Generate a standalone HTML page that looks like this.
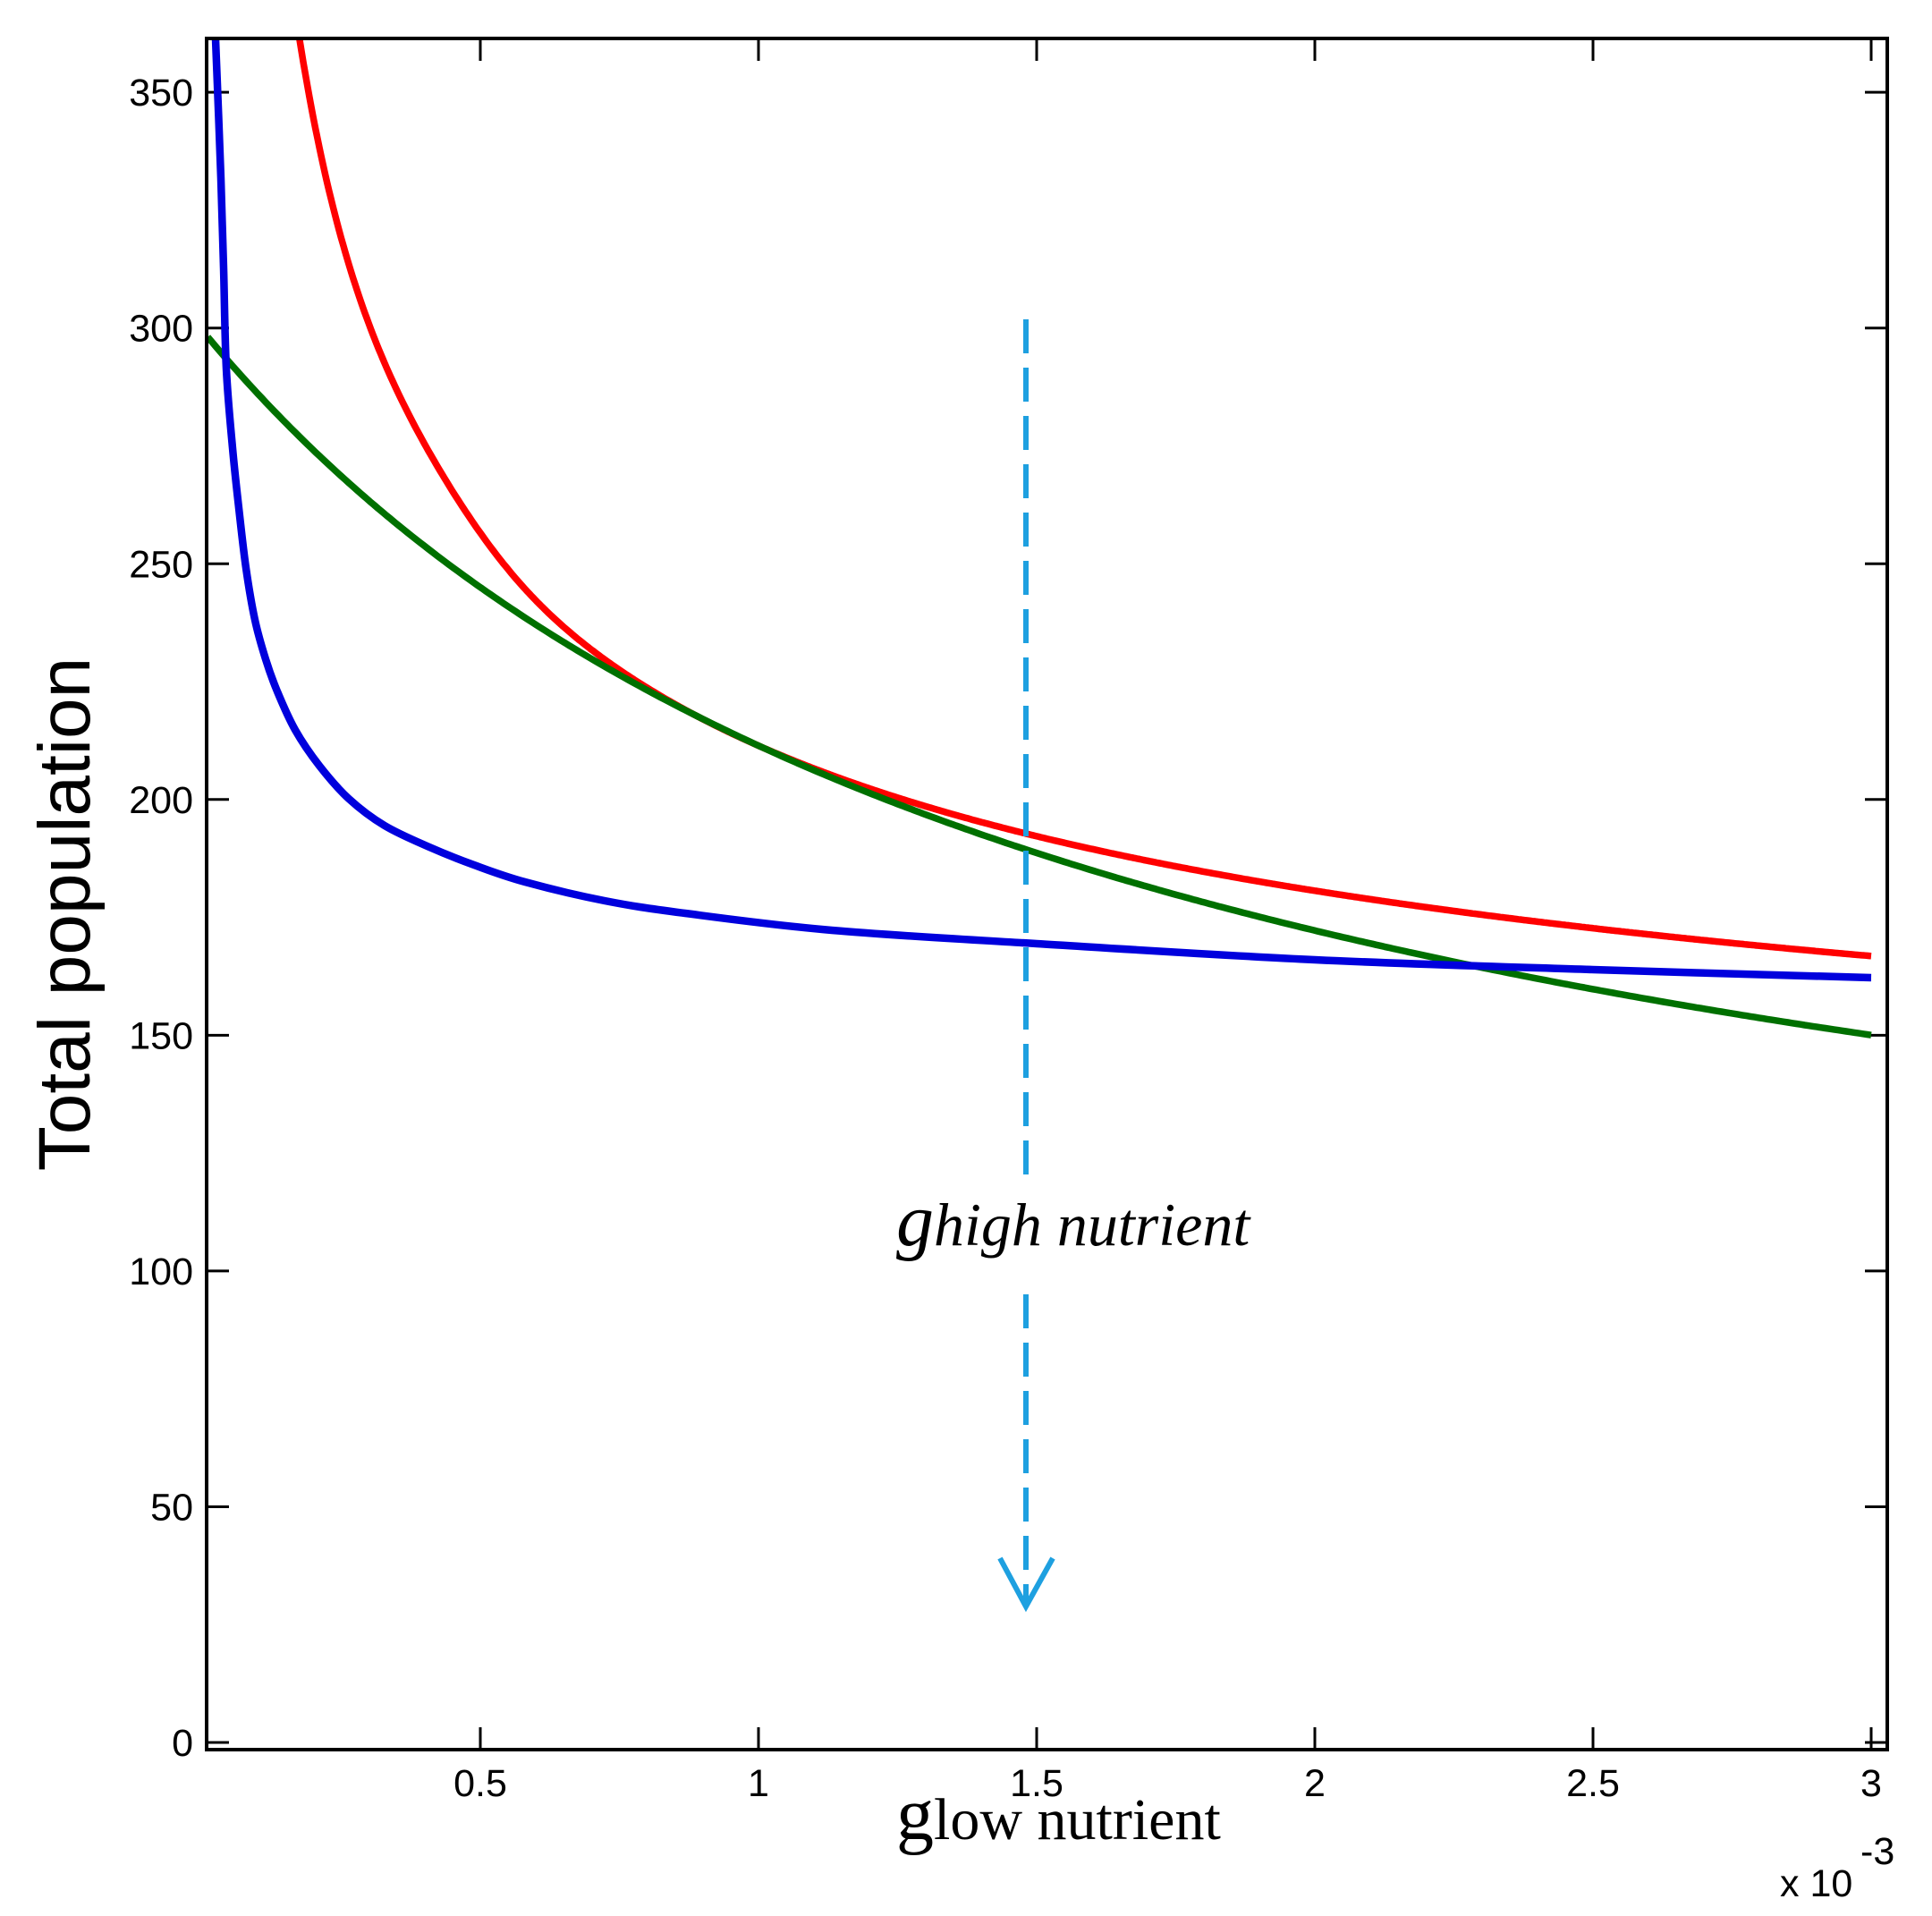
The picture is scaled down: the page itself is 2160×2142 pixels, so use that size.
<!DOCTYPE html>
<html><head><meta charset="utf-8"><style>
html,body{margin:0;padding:0;background:#fff}
svg{display:block}
.t{font-family:"Liberation Sans",sans-serif;font-size:43px;fill:#000}
</style></head><body>
<svg id="s" width="2160" height="2142" viewBox="0 0 2160 2142" xmlns="http://www.w3.org/2000/svg">
<rect width="2160" height="2142" fill="#fff"/>
<g id="ticks" stroke="#000" stroke-width="3"></g>
<g id="labels"></g>
<g id="curves" fill="none" stroke-linejoin="round" stroke-linecap="butt"></g>
<rect x="231" y="43" width="1879" height="1913" fill="none" stroke="#000" stroke-width="4"/>
<g stroke="#1ea0e0" stroke-width="6" fill="none">
<line x1="1147" y1="357" x2="1147" y2="1329" stroke-dasharray="38,16"/>
<line x1="1147" y1="1447" x2="1147" y2="1790" stroke-dasharray="38,16"/>
<polyline points="1118,1742 1147,1796 1177,1742"/>
</g>
<text x="1002" y="1392" font-family="Liberation Serif,serif" font-style="italic" fill="#000"><tspan font-size="84">g</tspan><tspan font-size="68">high nutrient</tspan></text>
<text x="1002" y="2056" font-family="Liberation Serif,serif" fill="#000"><tspan font-size="84">g</tspan><tspan font-size="66">low nutrient</tspan></text>
<text transform="translate(100,1022) rotate(-90)" text-anchor="middle" font-family="Liberation Sans,sans-serif" font-size="82" fill="#000">Total population</text>
<text x="1990" y="2120" class="t" font-size="42">x 10</text>
<text x="2080" y="2084" class="t" font-size="30">-3</text>
</svg>
<script>
const NS="http://www.w3.org/2000/svg";
const X=g=>226+622*g, Y=p=>1948-5.271*p;
const tk=document.getElementById('ticks'), lb=document.getElementById('labels');
function el(p,tag,a,txt){const e=document.createElementNS(NS,tag);for(const k in a)e.setAttribute(k,a[k]);if(txt!==undefined)e.textContent=txt;p.appendChild(e);return e;}
for(let v=0;v<=350;v+=50){const y=Y(v);
 el(tk,'line',{x1:231,y1:y,x2:256,y2:y});el(tk,'line',{x1:2110,y1:y,x2:2085,y2:y});
 el(lb,'text',{x:216,y:y+15,'text-anchor':'end',class:'t'},String(v));}
for(let g=0.5;g<=3.001;g+=0.5){const x=X(g);
 el(tk,'line',{x1:x,y1:1956,x2:x,y2:1931});el(tk,'line',{x1:x,y1:43,x2:x,y2:68});
 el(lb,'text',{x:x,y:2008,'text-anchor':'middle',class:'t'},String(g));}
function path(pts){let d='M'+pts[0].join(',');
 for(let i=0;i<pts.length-1;i++){const p0=pts[Math.max(i-1,0)],p1=pts[i],p2=pts[i+1],p3=pts[Math.min(i+2,pts.length-1)];
  const c1=[p1[0]+(p2[0]-p0[0])/6,p1[1]+(p2[1]-p0[1])/6],c2=[p2[0]-(p3[0]-p1[0])/6,p2[1]-(p3[1]-p1[1])/6];
  d+=' C'+c1.join(',')+' '+c2.join(',')+' '+p2.join(',');}
 return d;}
function fn(f,g0,g1,n){const pts=[];let prev=null;for(let i=0;i<=n;i++){const g=g0+(g1-g0)*i/n;let y=Y(f(g));if(y<44){prev=[X(g),y];continue;}
 if(prev&&!pts.length){const x0=prev[0],y0=prev[1],x1=X(g);pts.push([x0+(x1-x0)*(44-y0)/(y-y0),44]);}
 pts.push([X(g),y]);}return 'M'+pts.map(p=>p[0].toFixed(1)+','+p[1].toFixed(1)).join(' L');}
const cv=document.getElementById('curves');
el(cv,'path',{d:fn(g=>100.8+110.6*Math.pow(g,-0.47)+40*Math.exp(-g/0.12)+3*Math.exp(-Math.pow((g-0.4)/0.15,2)),0.15,3,800),stroke:'#ff0000','stroke-width':7.5});
el(cv,'path',{d:fn(g=>70.1+368/(g+1.604),0.01,3,400),stroke:'#007000','stroke-width':7.5});
el(cv,'path',{d:path([[241,44],[244,120],[247,200],[250,300],[253,412],[260,501],[267,568],[275,635],[285,693],[297,737],[310,773],[330,816],[357,856],[390,893],[430,923],[480,947],[530,967],[587,986],[676,1007],[766,1021],[930,1040],[1159,1055],[1470,1073],[1781,1084],[2092,1093]]),stroke:'#0000dd','stroke-width':8.5});
</script>
</body></html>
